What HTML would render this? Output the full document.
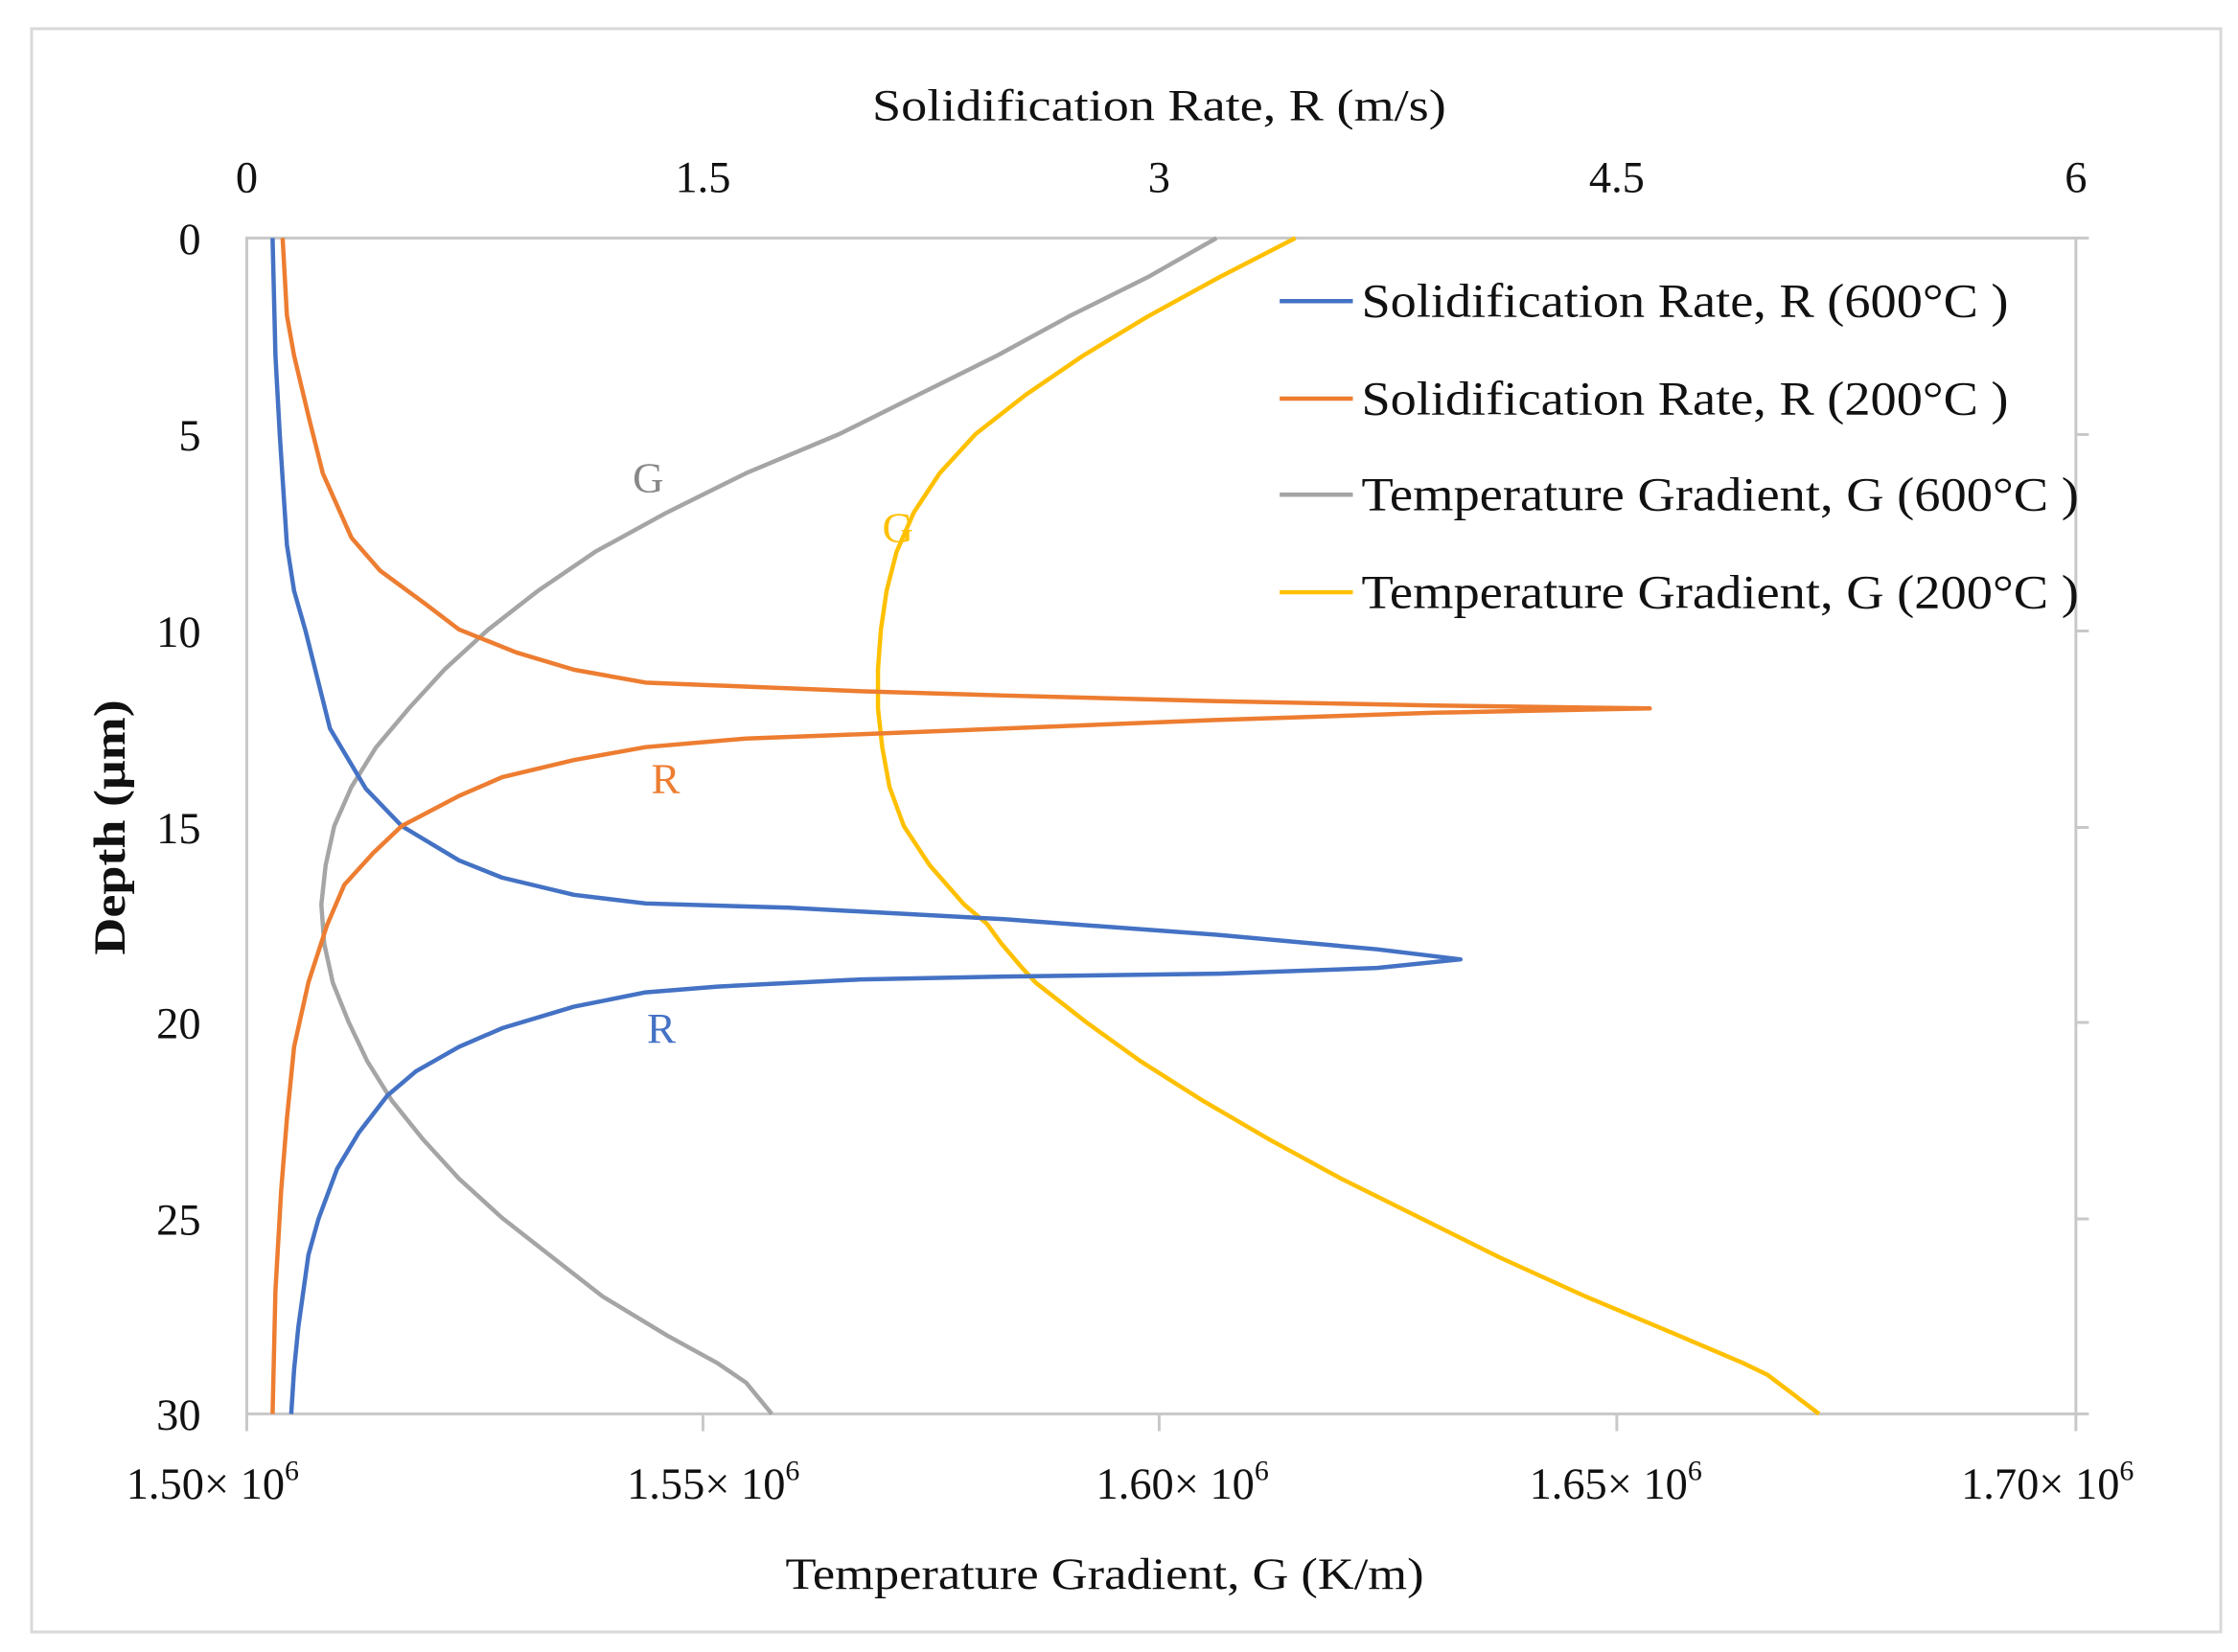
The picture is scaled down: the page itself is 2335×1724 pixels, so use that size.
<!DOCTYPE html>
<html><head><meta charset="utf-8"><style>html,body{margin:0;padding:0;background:#fff}svg{display:block}</style></head>
<body>
<svg width="2335" height="1724" viewBox="0 0 1560 1152" preserveAspectRatio="none" xmlns="http://www.w3.org/2000/svg" font-family="Liberation Serif, serif" fill="#111">
<rect x="22" y="20" width="1526" height="1118" fill="#fff" stroke="#d9d9d9" stroke-width="2"/>
<g stroke="#c8c8c8" stroke-width="2" fill="none">
<rect x="172" y="166" width="1275" height="820"/>
<line x1="172" y1="986" x2="172" y2="998"/><line x1="490" y1="986" x2="490" y2="998"/><line x1="808" y1="986" x2="808" y2="998"/><line x1="1127" y1="986" x2="1127" y2="998"/><line x1="1447" y1="986" x2="1447" y2="998"/>
<line x1="1447" y1="303" x2="1456" y2="303"/><line x1="1447" y1="440" x2="1456" y2="440"/><line x1="1447" y1="577" x2="1456" y2="577"/><line x1="1447" y1="713" x2="1456" y2="713"/><line x1="1447" y1="850" x2="1456" y2="850"/><line x1="1447" y1="166" x2="1456" y2="166"/><line x1="1447" y1="986" x2="1456" y2="986"/>
</g>
<g font-size="31" text-anchor="middle">
<text x="808" y="84" textLength="400" lengthAdjust="spacingAndGlyphs">Solidification Rate, R (m/s)</text>
<text x="172" y="134">0</text><text x="490" y="134">1.5</text><text x="808" y="134">3</text><text x="1127" y="134">4.5</text><text x="1447" y="134">6</text>
<text x="770" y="1108" textLength="445" lengthAdjust="spacingAndGlyphs">Temperature Gradient, G (K/m)</text>
</g>
<g font-size="31" text-anchor="end">
<text x="140" y="177">0</text><text x="140" y="314">5</text><text x="140" y="451">10</text><text x="140" y="588">15</text><text x="140" y="724">20</text><text x="140" y="861">25</text><text x="140" y="997">30</text>
</g>
<g font-size="31">
<text x="88" y="1045">1.50× 10<tspan font-size="20" dy="-13">6</tspan></text>
<text x="437" y="1045">1.55× 10<tspan font-size="20" dy="-13">6</tspan></text>
<text x="764" y="1045">1.60× 10<tspan font-size="20" dy="-13">6</tspan></text>
<text x="1066" y="1045">1.65× 10<tspan font-size="20" dy="-13">6</tspan></text>
<text x="1367" y="1045">1.70× 10<tspan font-size="20" dy="-13">6</tspan></text>
</g>
<text transform="translate(87,577) rotate(-90)" font-size="31" font-weight="bold" text-anchor="middle" textLength="178" lengthAdjust="spacingAndGlyphs">Depth (μm)</text>
<g fill="none" stroke-width="3" stroke-linejoin="round">
<polyline stroke="#a5a5a5" points="848,166 800,193.3 745,220.7 695,248 640,275.3 585,302.7 520,330 465,357.3 415,384.7 375,412 340,439.3 310,466.7 285,494 262,521.3 245,548.7 233,576 227,603.3 224,630.7 226,658 232,685.3 243,712.7 256,740 273,767.3 295,794.7 320,822 350,849.3 385,876.7 420,904 465,931.3 500,950.5 520,964.1 538,986"/>
<polyline stroke="#ffc000" points="903,166 850,193.3 800,220.7 755,248 715,275.3 680,302.7 655,330 637,357.3 625,384.7 618,412 614,439.3 612,466.7 612,494 615,521.3 620,548.7 630,576 648,603.3 672,630.7 688,644.3 698,658 712,674.4 722,685.3 757,712.7 795,740 838,767.3 885,794.7 935,822 990,849.3 1045,876.7 1105,904 1170,931.3 1215,950.5 1232,958.7 1250,972.3 1268,986"/>
<path stroke="#4472c4" d="M190,166 L192,248 L195,303 L200,380 L205,412 L213,440 L230,508 L255,550 L280,576 L320,600 L350,612 L400,624 L450,630 L550,633 L700,641 L850,652 L960,662 L1018,669 L960,675 L850,679 L700,681 L600,683 L500,688 L450,692 L400,702 L350,717 L320,730 L290,747 L270,764 L250,790 L235,815 L222,850 L215,875 L208,925 L205,955 L203,986"/>
<path stroke="#ed7d31" d="M197,166 L200,220 L205,248 L215,290 L225,330 L245,375 L265,398 L295,420 L320,439 L360,455 L400,467 L450,476 L500,478 L600,482 L700,485 L850,489 L1000,492 L1150,494 L1000,497 L850,502 L700,508 L600,512 L520,515 L450,521 L400,530 L350,542 L320,555 L280,576 L260,595 L240,617 L228,645 L215,685 L205,730 L200,780 L196,830 L192,900 L190,986"/>
</g>
<g font-size="30">
<text x="441" y="343" fill="#888">G</text>
<text x="615" y="378" fill="#ffc000">G</text>
<text x="454" y="553" fill="#ed7d31">R</text>
<text x="451" y="727" fill="#4472c4">R</text>
</g>
<g stroke-width="3">
<line x1="892" y1="210" x2="943" y2="210" stroke="#4472c4"/>
<line x1="892" y1="278" x2="943" y2="278" stroke="#ed7d31"/>
<line x1="892" y1="345" x2="943" y2="345" stroke="#a5a5a5"/>
<line x1="892" y1="413" x2="943" y2="413" stroke="#ffc000"/>
</g>
<g font-size="33">
<text x="949" y="221" textLength="451" lengthAdjust="spacingAndGlyphs">Solidification Rate, R (600°C )</text>
<text x="949" y="289" textLength="451" lengthAdjust="spacingAndGlyphs">Solidification Rate, R (200°C )</text>
<text x="949" y="356" textLength="500" lengthAdjust="spacingAndGlyphs">Temperature Gradient, G (600°C )</text>
<text x="949" y="424" textLength="500" lengthAdjust="spacingAndGlyphs">Temperature Gradient, G (200°C )</text>
</g>
</svg>
</body></html>
